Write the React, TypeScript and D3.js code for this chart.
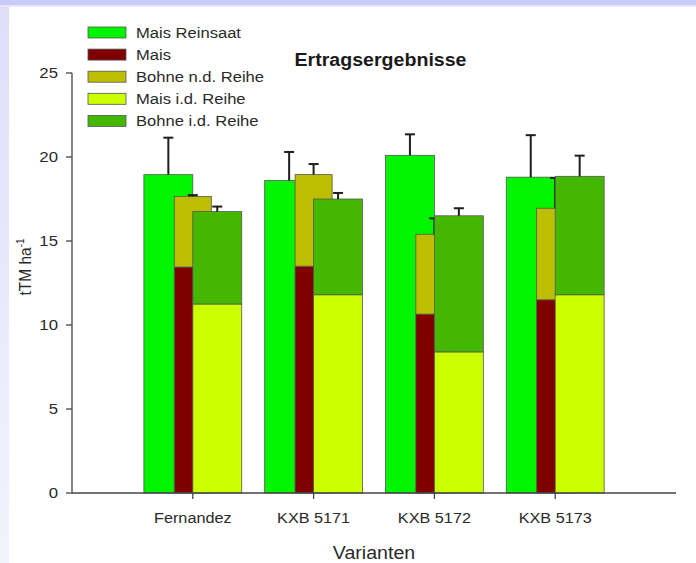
import React from "react";
import * as d3 from "d3";

const categories = ["Fernandez", "KXB 5171", "KXB 5172", "KXB 5173"];
const maisReinsaat = [18.95, 18.6, 20.1, 18.8];
const maisReinsaatErr = [2.2, 1.7, 1.25, 2.5];
const mais = [13.45, 13.5, 10.65, 11.5];
const bohneND = [4.2, 5.45, 4.75, 5.45];
const bohneNDErr = [0.08, 0.63, 0.95, 1.8];
const maisID = [11.25, 11.8, 8.4, 11.8];
const bohneID = [5.5, 5.7, 8.1, 7.05];
const bohneIDErr = [0.3, 0.36, 0.45, 1.23];
const yTicks = [0, 5, 10, 15, 20, 25];
const legendLabels = ["Mais Reinsaat", "Mais", "Bohne n.d. Reihe", "Mais i.d. Reihe", "Bohne i.d. Reihe"];
const legendColors = ["#00f500", "#800000", "#bebe00", "#ccff00", "#44b800"];

const W = 696;
const H = 563;
const SX = 1.12;
const FONT = "'Liberation Sans', Arial, sans-serif";

function T(props: any) {
  const { x, y, anchor = "start", size = 15, weight = "normal", fill = "#2a2a2a", children } = props;
  return (
    <text
      transform={`translate(${x},${y}) scale(${SX},1)`}
      textAnchor={anchor}
      fontSize={size}
      fontWeight={weight}
      fill={fill}
      fontFamily={FONT}
    >
      {children}
    </text>
  );
}

export default function App() {
  const x = d3.scalePoint<string>().domain(categories).range([72, 676]).padding(1);
  const y = d3.scaleLinear().domain([0, 25]).range([493, 73]);
  const step = x.step();
  const outerW = step * 0.405;
  const midW = step * 0.307;
  const stroke = "#555";
  const errColor = "#1e1e1e";
  const cap = 5;

  const ErrBar = ({ cx, top, err }: any) => (
    <g stroke={errColor} strokeWidth={2}>
      <line x1={cx} x2={cx} y1={y(top)} y2={y(top + err)} />
      <line x1={cx - cap} x2={cx + cap} y1={y(top + err)} y2={y(top + err)} />
    </g>
  );

  return (
    <div style={{ position: "absolute", left: 0, top: 0 }}>
      <svg width={W} height={H} style={{ display: "block" }}>
        <defs>
          <linearGradient id="leftStrip" x1="0" y1="0" x2="0" y2="1">
            <stop offset="0" stopColor="#dedefa" />
            <stop offset="1" stopColor="#f3f3fd" />
          </linearGradient>
        </defs>
        <rect x={0} y={0} width={W} height={H} fill="#ffffff" />
        <rect x={0} y={0} width={9} height={H} fill="url(#leftStrip)" />
        <rect x={0} y={0} width={W} height={5} fill="#cacaf9" />
        <rect x={0} y={5} width={W} height={2} fill="#e6e6fc" />

        {/* bars */}
        {categories.map((c, i) => {
          const cx = x(c)!;
          const l1 = cx - outerW;
          const l2 = cx - midW / 2;
          const l3 = cx;
          return (
            <g key={c}>
              <rect x={l1} y={y(maisReinsaat[i])} width={outerW} height={y(0) - y(maisReinsaat[i])} fill={legendColors[0]} stroke={stroke} strokeWidth={0.8} />
              <ErrBar cx={l1 + outerW / 2} top={maisReinsaat[i]} err={maisReinsaatErr[i]} />
              <rect x={l2} y={y(mais[i])} width={midW} height={y(0) - y(mais[i])} fill={legendColors[1]} stroke={stroke} strokeWidth={0.8} />
              <rect x={l2} y={y(mais[i] + bohneND[i])} width={midW} height={y(mais[i]) - y(mais[i] + bohneND[i])} fill={legendColors[2]} stroke={stroke} strokeWidth={0.8} />
              <ErrBar cx={cx} top={mais[i] + bohneND[i]} err={bohneNDErr[i]} />
              <rect x={l3} y={y(maisID[i])} width={outerW} height={y(0) - y(maisID[i])} fill={legendColors[3]} stroke={stroke} strokeWidth={0.8} />
              <rect x={l3} y={y(maisID[i] + bohneID[i])} width={outerW} height={y(maisID[i]) - y(maisID[i] + bohneID[i])} fill={legendColors[4]} stroke={stroke} strokeWidth={0.8} />
              <ErrBar cx={l3 + outerW / 2} top={maisID[i] + bohneID[i]} err={bohneIDErr[i]} />
            </g>
          );
        })}

        {/* y axis */}
        <g stroke="#444" strokeWidth={1.3}>
          <line x1={72} x2={72} y1={y(25)} y2={y(0)} />
          {yTicks.map((t) => (
            <line key={t} x1={66} x2={72} y1={y(t)} y2={y(t)} />
          ))}
        </g>
        {yTicks.map((t) => (
          <T key={t} x={58} y={y(t) + 5.4} anchor="end" size={15}>
            {t}
          </T>
        ))}

        {/* x axis */}
        <g stroke="#444" strokeWidth={1.3}>
          <line x1={72} x2={676} y1={y(0)} y2={y(0)} />
          {categories.map((c) => (
            <line key={c} x1={x(c)!} x2={x(c)!} y1={y(0)} y2={y(0) + 6} />
          ))}
        </g>
        {categories.map((c) => (
          <T key={c} x={x(c)!} y={523} anchor="middle" size={14.5}>
            {c}
          </T>
        ))}

        <T x={374} y={559} anchor="middle" size={17.5}>
          Varianten
        </T>

        <text
          transform="translate(31,267) rotate(-90) scale(1,1.12)"
          textAnchor="middle"
          fontSize={15.5}
          fill="#2a2a2a"
          fontFamily={FONT}
        >
          tTM ha
          <tspan dy={-6} fontSize={10}>
            -1
          </tspan>
        </text>

        <T x={380.5} y={65.7} anchor="middle" size={17.5} weight="bold" fill="#1a1a1a">
          Ertragsergebnisse
        </T>

        {/* legend */}
        {legendLabels.map((lab, i) => (
          <g key={lab}>
            <rect x={88} y={27 + i * 22.1} width={38} height={11} fill={legendColors[i]} stroke={stroke} strokeWidth={0.8} />
            <T x={136} y={37.7 + i * 22.1} size={14.8}>
              {lab}
            </T>
          </g>
        ))}
      </svg>
    </div>
  );
}
